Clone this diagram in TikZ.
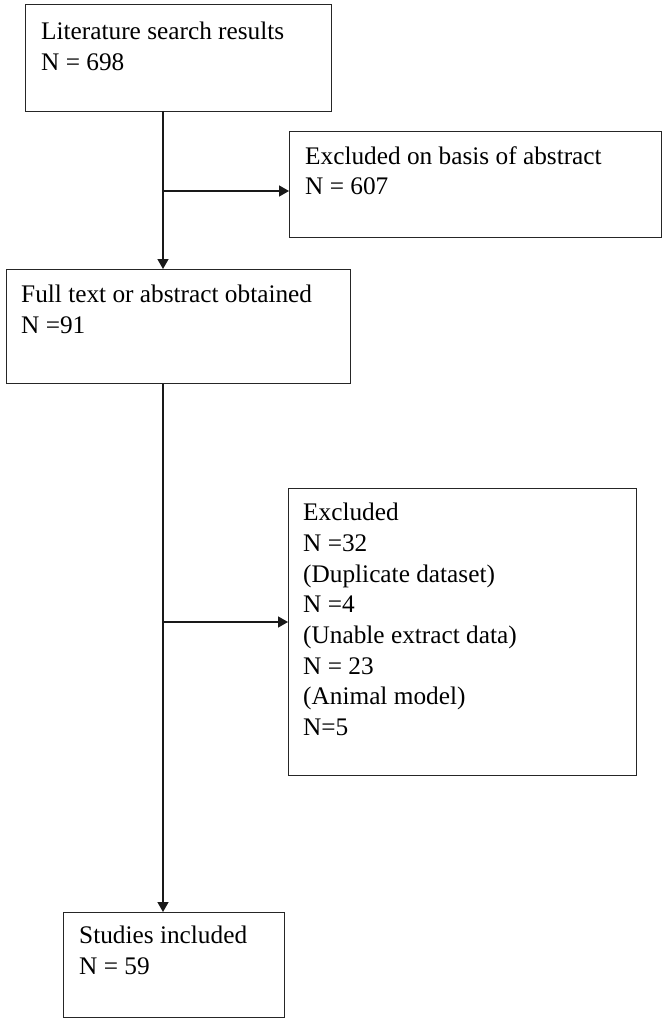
\documentclass[tikz,border=0pt]{standalone}
\usepackage{fontspec}
\setmainfont{Liberation Serif}
\usetikzlibrary{arrows.meta}
\tikzset{
  x=1pt, y=1pt,
  box/.style={draw=black!85, line width=1.4pt, inner sep=0pt, anchor=north west},
  txt/.style={anchor=north west, inner sep=0pt, align=left, font=\fontsize{25.3}{30.7}\selectfont},
  conn/.style={line width=1.4pt, draw=black!90},
  arr/.style={conn, -{Triangle[length=10pt,width=11pt]}}
}
\begin{document}
\begin{tikzpicture}
\useasboundingbox (0,0) rectangle (666,-1024);
\fill[white] (0,0) rectangle (666,-1024);
% boxes
\node[box, minimum width=306pt, minimum height=107pt] (b1) at (25,-4) {};
\node[box, minimum width=372pt, minimum height=106pt] (b2) at (289,-131) {};
\node[box, minimum width=344pt, minimum height=114pt] (b3) at (6,-269) {};
\node[box, minimum width=348pt, minimum height=287pt] (b4) at (288,-488) {};
\node[box, minimum width=221pt, minimum height=105pt] (b5) at (63,-912) {};
% texts
\node[txt] (t1) at ([shift={(16,-18)}]b1.north west) {Literature search results\\N = 698};
\node[txt] (t2) at ([shift={(16,-15)}]b2.north west) {Excluded on basis of abstract\\N = 607};
\node[txt] (t3) at ([shift={(15,-16)}]b3.north west) {Full text or abstract obtained\\N =91};
\node[txt] (t4) at ([shift={(15,-15)}]b4.north west) {Excluded\\N =32\\(Duplicate dataset)\\N =4\\(Unable extract data)\\N = 23\\(Animal model)\\N=5};
\node[txt] (t5) at ([shift={(16,-14)}]b5.north west) {Studies included\\N = 59};
% connectors
\coordinate (s1) at (163,-111);
\coordinate (j1) at (163,-191);
\coordinate (s2) at (163,-383);
\coordinate (j2) at (163,-622);
\draw[arr] (s1) -- (s1 |- b3.north);
\draw[arr] (j1) -- (j1 -| b2.west);
\draw[arr] (s2 |- b3.south) -- (s2 |- b5.north);
\draw[arr] (j2) -- (j2 -| b4.west);
\end{tikzpicture}
\end{document}
